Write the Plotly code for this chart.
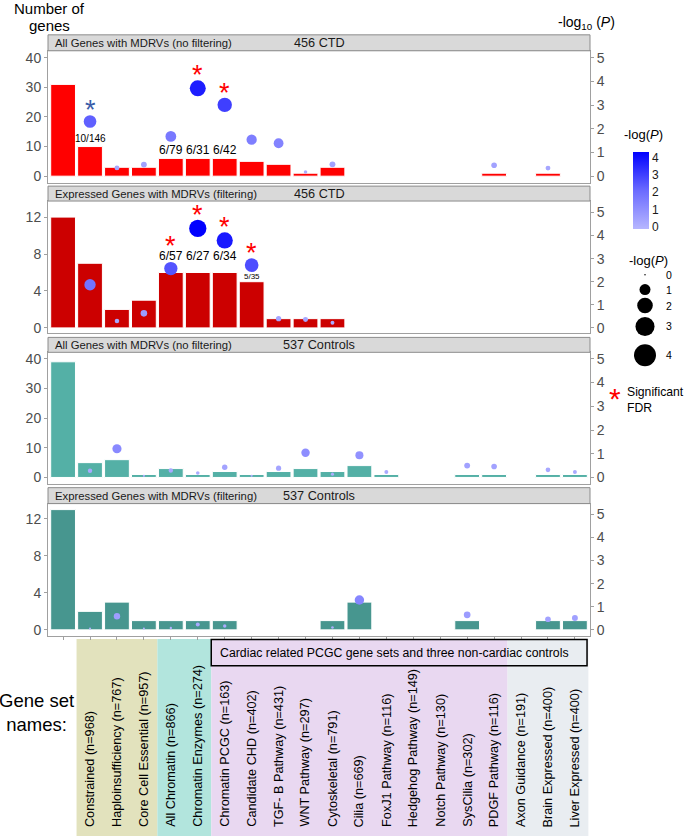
import math
import plotly.graph_objects as go

W, H = 685, 838
FONT = "Liberation Sans, Arial, sans-serif"

# ---------------- data ----------------
categories = ["All genes", "Constrained (n=968)", "Haploinsufficiency (n=767)",
              "Core Cell Essential (n=957)", "All Chromatin (n=866)",
              "Chromatin Enzymes (n=274)", "Chromatin PCGC (n=163)",
              "Candidate CHD (n=402)", "TGF- B Pathway (n=431)",
              "WNT Pathway (n=297)", "Cytoskeletal (n=791)", "Cilia (n=669)",
              "FoxJ1 Pathway (n=116)", "Hedgehog Pathway (n=149)",
              "Notch Pathway (n=130)", "SysCilia (n=302)",
              "PDGF Pathway (n=116)", "Axon Guidance (n=191)",
              "Brain Expressed (n=400)", "Liver Expressed (n=400)"]
gene_set_labels = categories[1:]

ctd_all_counts = [31, 10, 3, 3, 6, 6, 6, 5, 4, 1, 3, 0, 0, 0, 0, 0, 1, 0, 1, 0]
ctd_all_logp = [None, 2.31, 0.35, 0.49, 1.68, 3.71, 3.01, 1.54, 1.39, 0.18, 0.50,
                None, None, None, None, None, 0.46, None, 0.34, None]
ctd_exp_counts = [12, 7, 2, 3, 6, 6, 6, 5, 1, 1, 1, 0, 0, 0, 0, 0, 0, 0, 0, 0]
ctd_exp_logp = [None, 1.87, 0.30, 0.63, 2.57, 4.31, 3.79, 2.72, 0.40, 0.36, 0.22,
                None, None, None, None, None, None, None, None, None]
ctrl_all_counts = [39, 5, 6, 1, 3, 1, 2, 1, 2, 3, 2, 4, 1, 0, 0, 1, 1, 0, 1, 1]
ctrl_all_logp = [None, 0.28, 1.21, 0.07, 0.29, 0.19, 0.43, 0.07, 0.39, 1.04, 0.14,
                 0.94, 0.23, None, None, 0.50, 0.46, None, 0.32, 0.23]
ctrl_exp_counts = [13, 2, 3, 1, 1, 1, 1, 0, 0, 0, 1, 3, 0, 0, 0, 1, 0, 0, 1, 1]
ctrl_exp_logp = [None, 0.06, 0.59, 0.06, 0.08, 0.23, 0.17, None, None, None, 0.10,
                 1.29, None, None, None, 0.65, None, None, 0.46, 0.51]

ctd_all_fractions = {1: "10/146", 4: "6/79", 5: "6/31", 6: "6/42"}
ctd_exp_fractions = {4: "6/57", 5: "6/27", 6: "6/34", 7: "5/35"}
ctd_all_stars = {1: "nominal", 5: "fdr", 6: "fdr"}
ctd_exp_stars = {4: "fdr", 5: "fdr", 6: "fdr", 7: "fdr"}

left_ticks_big = [0, 10, 20, 30, 40]
left_ticks_small = [0, 4, 8, 12]
right_ticks = [0, 1, 2, 3, 4, 5]
legend_size_values = [0, 1, 2, 3, 4]

# ---------------- style / layout ----------------
bar_colors = ["#ff0000", "#cc0000", "#54b0a6", "#47968f"]
strip_left = ["All Genes with MDRVs (no filtering)", "Expressed Genes with MDRVs (filtering)",
              "All Genes with MDRVs (no filtering)", "Expressed Genes with MDRVs (filtering)"]
strip_right = ["456 CTD", "456 CTD", "537 Controls", "537 Controls"]
# pixel geometry: (strip top, plot top, plot bottom)
panels_px = [(33, 49, 182), (185, 200, 333), (337, 352, 484), (488, 504, 637)]
left_ranges = [(-2.35, 42.35), (-0.6, 13.74), (-2.1, 42.2), (-0.66, 13.65)]
ratios = [8.0, 2.5, 8.0, 2.5]
left_ticks = [left_ticks_big, left_ticks_small, left_ticks_big, left_ticks_small]
counts_list = [ctd_all_counts, ctd_exp_counts, ctrl_all_counts, ctrl_exp_counts]
logp_list = [ctd_all_logp, ctd_exp_logp, ctrl_all_logp, ctrl_exp_logp]
frac_list = [ctd_all_fractions, ctd_exp_fractions, {}, {}]
star_list = [ctd_all_stars, ctd_exp_stars, {}, {}]

X0, X1 = 48, 590
XR = (-0.56, 19.56)
CMIN, CMAX = -0.13, 4.31
CSCALE = [[0, "#b6b6ff"], [0.5, "#6b6bff"], [1, "#0000ff"]]
AXC = "#a0a0a0"
TICKC = "#4d4d4d"


def px_x(p):
    return p / W


def px_y(p):
    return 1 - p / H


def dot_size(v):
    return 8.3 * math.sqrt(max(v, 0))


fig = go.Figure()
shapes = []
annotations = []

for i in range(4):
    n = i + 1
    xa, ya, ya2 = f"x{n}", f"y{n}", f"y{n + 4}"
    strip_top, top, bottom = panels_px[i]
    lr = left_ranges[i]
    rr = (lr[0] / ratios[i], lr[1] / ratios[i])
    px_per_unit = (bottom - top) / (lr[1] - lr[0])

    fig.add_trace(go.Bar(x=categories, y=counts_list[i], xaxis=xa, yaxis=ya,
                         marker=dict(color=bar_colors[i], line=dict(color="white", width=1)),
                         showlegend=False, hoverinfo="x+y"))
    xs = [c for c, v in zip(categories, logp_list[i]) if v is not None]
    vs = [v for v in logp_list[i] if v is not None]
    fig.add_trace(go.Scatter(x=xs, y=vs, xaxis=xa, yaxis=ya2, mode="markers",
                             marker=dict(size=[dot_size(v) for v in vs], color=vs,
                                         colorscale=CSCALE, cmin=CMIN, cmax=CMAX,
                                         line=dict(width=0), opacity=1,
                                         showscale=(i == 0),
                                         colorbar=dict(x=px_x(633), xanchor="left",
                                                       y=px_y(189.5), yanchor="middle",
                                                       len=77, lenmode="pixels",
                                                       thickness=16, thicknessmode="pixels",
                                                       xpad=0, ypad=0, outlinewidth=0,
                                                       tickvals=[0, 1, 2, 3, 4], ticks="",
                                                       tickfont=dict(size=12, color="#1a1a1a", family=FONT))),
                             showlegend=False))

    dom = [px_y(bottom), px_y(top)]
    fig.update_layout(**{
        f"xaxis{n}": dict(domain=[px_x(X0), px_x(X1)], anchor=ya, type="category",
                          categoryorder="array", categoryarray=categories,
                          range=list(XR), showticklabels=False,
                          ticks="outside" if i == 3 else "", ticklen=3, tickcolor=AXC,
                          showline=True, mirror=True, linecolor=AXC, linewidth=1,
                          showgrid=False, zeroline=False, fixedrange=True),
        f"yaxis{n}": dict(domain=dom, anchor=xa, range=list(lr), tickvals=left_ticks[i],
                          ticks="outside", ticklen=3, tickcolor=AXC,
                          tickfont=dict(size=14, color=TICKC, family=FONT),
                          showline=True, linecolor=AXC, linewidth=1,
                          showgrid=False, zeroline=False),
        f"yaxis{n + 4}": dict(overlaying=ya, anchor=xa, side="right", range=list(rr),
                              tickvals=right_ticks, ticks="outside", ticklen=3, tickcolor=AXC,
                              tickfont=dict(size=14, color=TICKC, family=FONT),
                              showline=True, linecolor=AXC, linewidth=1,
                              showgrid=False, zeroline=False),
    })

    # strip
    shapes.append(dict(type="rect", xref="paper", yref="paper",
                       x0=px_x(X0), x1=px_x(X1), y0=px_y(top), y1=px_y(strip_top),
                       fillcolor="#d9d9d9", line=dict(color="#8c8c8c", width=1), layer="above"))
    ymid = px_y((strip_top + top) / 2)
    annotations.append(dict(xref="paper", yref="paper", x=px_x(53), y=ymid, xanchor="left",
                            yanchor="middle", text=strip_left[i], showarrow=False,
                            font=dict(size=11.3, color="#1a1a1a", family=FONT)))
    annotations.append(dict(xref="paper", yref="paper", x=px_x((X0 + X1) / 2), y=ymid,
                            xanchor="center", yanchor="middle", text=strip_right[i],
                            showarrow=False, font=dict(size=12.7, color="#1a1a1a", family=FONT)))

    # fraction labels above bars
    label_top_px = {}
    for idx, txt in frac_list[i].items():
        cnt = counts_list[i][idx]
        fsize = 10 if (i == 0 and idx == 1) else (8 if (i == 1 and idx == 7) else 12)
        shift = 8 if i == 0 else (5 if idx == 7 else 16)
        annotations.append(dict(xref=xa, yref=ya, x=categories[idx], y=cnt, yshift=shift,
                                xanchor="center", yanchor="middle", text=txt, showarrow=False,
                                font=dict(size=fsize, color="black", family=FONT)))
        label_top_px[idx] = cnt * px_per_unit + shift + fsize * 0.5

    # significance stars above dots (or above label if label is higher)
    for idx, kind in star_list[i].items():
        v = logp_list[i][idx]
        dot_px = v * ratios[i] * px_per_unit
        r = dot_size(v) / 2
        top_px = max(dot_px + r, label_top_px.get(idx, -1e9))
        shift = top_px - dot_px + 11
        annotations.append(dict(xref=xa, yref=ya2, x=categories[idx], y=v, yshift=shift - 6,
                                xanchor="center", yanchor="middle", text="*", showarrow=False,
                                font=dict(size=27, color="#ff0000" if kind == "fdr" else "#3b5ca8",
                                          family=FONT)))

# ---------------- bottom gene-set area ----------------
groups = [(0.5, 3.5, "#e2e2bd"), (3.5, 5.5, "#b2e5dd"), (5.5, 16.5, "#e9d8f1"), (16.5, 19.5, "#e9edf1")]
for g0, g1, col in groups:
    shapes.append(dict(type="rect", xref="x4", yref="paper", x0=g0, x1=g1,
                       y0=0, y1=px_y(640), fillcolor=col, line=dict(width=0), layer="below"))
shapes.append(dict(type="rect", xref="x4", yref="paper", x0=5.5, x1=19.45,
                   y0=px_y(667), y1=px_y(640.5), fillcolor="rgba(0,0,0,0)",
                   line=dict(color="black", width=1.5)))
annotations.append(dict(xref="paper", yref="paper", x=px_x(218), y=px_y(654), xanchor="left",
                        yanchor="middle", showarrow=False,
                        text="Cardiac related PCGC gene sets and three non-cardiac controls",
                        font=dict(size=12.3, color="black", family=FONT)))
for name in gene_set_labels:
    annotations.append(dict(xref="x4", yref="paper", x=name, y=px_y(831), xanchor="center",
                            yanchor="bottom", textangle=-90, text=name, showarrow=False,
                            font=dict(size=12.7, color="black", family=FONT)))
annotations.append(dict(xref="paper", yref="paper", x=px_x(36), y=px_y(714), xanchor="center",
                        yanchor="middle", text="Gene set<br>names:", showarrow=False, align="center",
                        font=dict(size=18.5, color="black", family=FONT)))

# ---------------- axis titles ----------------
annotations.append(dict(xref="paper", yref="paper", x=px_x(50), y=px_y(7), xanchor="center",
                        yanchor="middle", text="Number of", showarrow=False,
                        font=dict(size=15, color="black", family=FONT)))
annotations.append(dict(xref="paper", yref="paper", x=px_x(50), y=px_y(24), xanchor="center",
                        yanchor="middle", text="genes", showarrow=False,
                        font=dict(size=15, color="black", family=FONT)))
annotations.append(dict(xref="paper", yref="paper", x=px_x(586), y=px_y(21), xanchor="center",
                        yanchor="middle", text="-log<sub>10</sub> (<i>P</i>)", showarrow=False,
                        font=dict(size=14, color="black", family=FONT)))

# ---------------- legends ----------------
annotations.append(dict(xref="paper", yref="paper", x=px_x(643), y=px_y(133), xanchor="center",
                        yanchor="middle", text="-log(<i>P</i>)", showarrow=False,
                        font=dict(size=13, color="black", family=FONT)))
annotations.append(dict(xref="paper", yref="paper", x=px_x(648), y=px_y(260), xanchor="center",
                        yanchor="middle", text="-log(<i>P</i>)", showarrow=False,
                        font=dict(size=13, color="black", family=FONT)))
legend_y_px = [274, 289, 305, 326, 355]
fig.add_trace(go.Scatter(x=[645] * len(legend_size_values), y=legend_y_px,
                         xaxis="x5", yaxis="y9", mode="markers",
                         marker=dict(size=[max(11 * math.sqrt(v), 1.5) for v in legend_size_values],
                                     color="#000000", opacity=1, line=dict(width=0)),
                         showlegend=False, hoverinfo="skip"))
for v, yp in zip(legend_size_values, legend_y_px):
    annotations.append(dict(xref="paper", yref="paper", x=px_x(664), y=px_y(yp), xanchor="left",
                            yanchor="middle", text=str(v), showarrow=False,
                            font=dict(size=10.5, color="black", family=FONT)))
annotations.append(dict(xref="paper", yref="paper", x=px_x(615), y=px_y(398), xanchor="center",
                        yanchor="middle", text="*", showarrow=False,
                        font=dict(size=30, color="#ff0000", family=FONT)))
annotations.append(dict(xref="paper", yref="paper", x=px_x(625), y=px_y(400), xanchor="left",
                        yanchor="middle", text="Significant<br>FDR", showarrow=False, align="left",
                        font=dict(size=12.2, color="black", family=FONT)))

fig.update_layout(
    xaxis5=dict(domain=[0, 1], range=[0, W], visible=False, fixedrange=True, anchor="y9"),
    yaxis9=dict(domain=[0, 1], range=[H, 0], visible=False, fixedrange=True, anchor="x5"),
    width=W, height=H, margin=dict(l=0, r=0, t=0, b=0),
    paper_bgcolor="white", plot_bgcolor="rgba(0,0,0,0)",
    bargap=0.08, shapes=shapes, annotations=annotations,
    font=dict(family=FONT), showlegend=False,
)

fig.write_html("out.html", config={"displayModeBar": False},
               post_script="document.body.style.margin='0';document.body.style.overflow='hidden';")
